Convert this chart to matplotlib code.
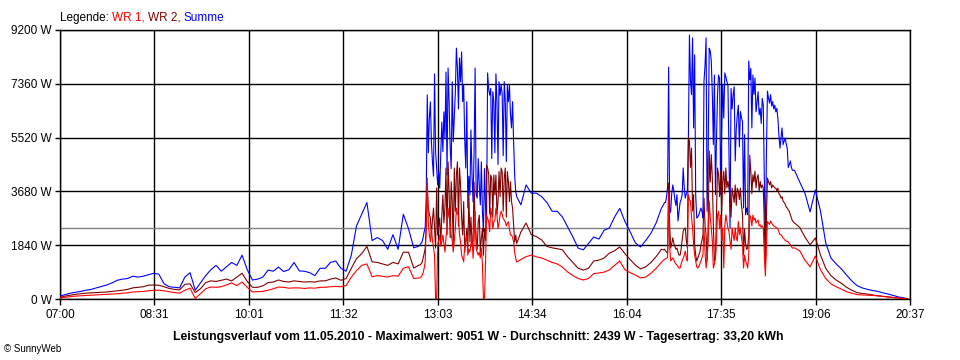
import matplotlib
matplotlib.use("Agg")
import matplotlib.pyplot as plt

plt.rcParams['font.family'] = ['Liberation Sans', 'DejaVu Sans']

# ---- data -------------------------------------------------------------
# sample times in minutes after 07:00 (one-minute samples where values fluctuate)
times = (list(range(0, 341, 5)) + list(range(345, 440)) + list(range(443, 579, 5))
         + list(range(580, 705)) + list(range(706, 812, 5)) + [815])

summe = [
    # 07:00 - 12:40
    100, 150, 200, 230, 260, 300, 330, 380, 430, 480,
    550, 640, 680, 700, 780, 750, 780, 830, 880, 850,
    520, 420, 400, 380, 750, 900, 300, 550, 800, 1000,
    1150, 950, 1100, 1250, 1150, 1500, 1000, 650, 680, 750,
    990, 950, 1090, 940, 1000, 1250, 960, 950, 900, 800,
    1050, 1050, 1250, 1300, 1050, 950, 1500, 2500, 2900, 3300,
    2000, 2100, 2000, 1700, 2200, 1700, 2900, 2400, 1750,
    # 12:45 - 14:19
    1810, 1850, 1900, 1950, 2100, 2300, 2430, 3500, 6980, 5000,
    6190, 6740, 5380, 4690, 4200, 7700, 5040, 4500, 3900, 4350,
    3790, 5000, 6050, 5040, 6400, 5500, 7760, 4240, 7900, 6750,
    5200, 4460, 7430, 5380, 6200, 7080, 8580, 7890, 6500, 8240,
    7430, 8450, 6750, 7320, 5500, 4480, 6750, 3110, 4200, 3560,
    5780, 4240, 3320, 5000, 7900, 3560, 3450, 4800, 3900, 3220,
    4690, 3000, 2290, 4460, 3200, 2640, 7730, 7200, 6970, 7200,
    4800, 7090, 6750, 5000, 7700, 6750, 4600, 7430, 6970, 7320,
    7000, 4900, 7430, 6750, 4700, 7320, 6750, 7320, 6300, 5850,
    6750, 5380, 4240, 3670, 3500,
    # 14:23 - 16:38
    3220, 3900, 3620, 3620, 3500, 3300, 3000, 3000, 2800, 2460,
    2120, 1740, 1680, 1900, 2120, 2050, 2350, 2430, 2800, 3100,
    2650, 2300, 1920, 1780, 2000, 2250, 2600, 3100,
    # 16:40 - 18:44
    3220, 3300, 3300, 3500, 3830, 7930, 2940, 3010, 3620, 3900,
    3700, 3400, 3200, 3570, 2670, 3000, 3300, 3400, 3570, 4480,
    3800, 3450, 3600, 3680, 5510, 9030, 7500, 6990, 8930, 5850,
    8350, 3570, 2770, 2800, 2880, 3000, 3110, 3000, 2770, 7460,
    8000, 8930, 3000, 5000, 8580, 8480, 8140, 7000, 5280, 7660,
    3570, 5500, 6990, 7660, 7540, 3570, 5800, 7320, 6190, 7730,
    7600, 7430, 7320, 5000, 2430, 7200, 6500, 6990, 7260, 4720,
    5800, 6300, 6630, 5200, 6410, 6200, 6070, 3110, 5620, 2880,
    3110, 2880, 8140, 7500, 7890, 5850, 7660, 7000, 7560, 6400,
    6750, 7090, 6300, 6520, 6000, 6860, 6630, 4000, 1740, 5000,
    7110, 6860, 6700, 6990, 6600, 6750, 6500, 6630, 6400, 6520,
    6190, 5600, 5160, 5500, 5850, 5280, 5400, 5510, 5300, 5160,
    4500, 4600, 4720, 4500, 4400,
    # 18:46 - 20:35
    4400, 4000, 3620, 2980, 3730, 3000, 1920, 1400, 1200, 1030,
    820, 620, 460, 380, 330, 290, 260, 210, 170, 120, 70, 40, 0,
]

wr2 = [
    60, 100, 130, 160, 180, 200, 210, 220, 230, 240,
    260, 280, 300, 330, 380, 400, 420, 470, 480, 470,
    420, 360, 330, 310, 500, 520, 220, 350, 560, 620,
    600, 640, 680, 620, 750, 880, 600, 400, 400, 450,
    560, 580, 650, 600, 580, 620, 600, 580, 590, 580,
    620, 620, 680, 720, 640, 700, 1050, 1380, 1550, 1800,
    1270, 1250, 1200, 1150, 1250, 1200, 1600, 1600, 1060,
    1160, 1160, 1200, 1250, 1400, 1550, 1740, 2500, 3800, 3110,
    2900, 2770, 2190, 2700, 3110, 2400, 1740, 3800, 2190, 2500,
    2770, 1900, 2870, 3560, 2600, 3110, 4480, 2200, 4690, 3670,
    2100, 4010, 3330, 1800, 4480, 3000, 4240, 4690, 2500, 4480,
    3900, 2800, 2190, 3330, 1600, 1960, 2410, 1700, 3560, 1960,
    2800, 1800, 2000, 4000, 2640, 2080, 1700, 2640, 2870, 1600,
    2080, 2410, 1500, 2410, 2000, 4580, 4480, 4300, 2900, 4240,
    4130, 2800, 4240, 3560, 4240, 2900, 3330, 4360, 3500, 4480,
    4360, 3000, 4130, 4480, 2800, 4360, 4010, 3330, 4010, 3330,
    3110, 2500, 1950, 2190, 1900,
    2290, 2600, 2200, 2130, 2020, 1800, 1750, 1720, 1680, 1440,
    1250, 1050, 990, 1050, 1300, 1330, 1400, 1570, 1650, 1780,
    1550, 1350, 1160, 1030, 1100, 1250, 1450, 1700,
    1680, 1700, 1650, 1600, 1570, 3970, 2500, 1740, 1900, 2090,
    1900, 1800, 1700, 1740, 1600, 1500, 1500, 1700, 2000, 2320,
    2400, 2430, 2000, 1740, 5510, 5400, 4500, 5160, 3010, 3570,
    1860, 1500, 1300, 1400, 1500, 1600, 1860, 2000, 2200, 3450,
    2500, 2200, 1300, 2500, 5060, 4000, 4940, 4140, 2500, 1300,
    1400, 3000, 4480, 4250, 3500, 4370, 3000, 4020, 4370, 3600,
    4480, 3800, 4020, 3790, 3560, 2800, 3790, 3560, 3300, 3900,
    3200, 3790, 3680, 3400, 3790, 3200, 2880, 1500, 2400, 1860,
    1700, 1740, 2200, 4920, 4370, 3600, 4250, 4000, 4370, 3800,
    4140, 4250, 3700, 4020, 3800, 3900, 3790, 2500, 1060, 2800,
    4140, 4020, 3900, 4020, 3800, 3900, 3850, 3800, 3790, 3700,
    3790, 3600, 3560, 3450, 3500, 3350, 3300, 3250, 3150, 3110,
    3050, 3000, 2880, 2780, 2670,
    2600, 2450, 2120, 1850, 2090, 1500, 1050, 800, 650, 540,
    400, 300, 220, 190, 170, 140, 110, 90, 70, 50, 30, 15, 0,
]

wr1 = [
    40, 60, 80, 100, 110, 120, 130, 140, 150, 160,
    170, 180, 200, 210, 240, 250, 260, 280, 300, 300,
    280, 250, 220, 200, 300, 370, 20, 180, 350, 410,
    400, 420, 480, 550, 460, 580, 400, 240, 250, 260,
    300, 350, 410, 400, 370, 380, 380, 360, 380, 370,
    400, 400, 420, 430, 420, 460, 750, 970, 1150, 1200,
    760, 800, 780, 750, 800, 780, 1050, 1100, 700,
    720, 730, 760, 800, 900, 1050, 1270, 2500, 4140, 2630,
    2200, 1960, 2410, 2000, 1740, 1500, 0, 0, 1840, 2000,
    2190, 1800, 1960, 2190, 1900, 1610, 2100, 2410, 3110, 2800,
    2640, 2190, 2000, 1610, 2000, 2410, 3110, 2900, 2870, 2200,
    1960, 1500, 1400, 1270, 1840, 2000, 2190, 1500, 1700, 1610,
    1900, 2190, 1390, 2000, 3000, 1740, 1600, 1500, 1600, 1400,
    1740, 1200, 0, 0, 1200, 2870, 2750, 2640, 2300, 3110,
    2870, 2400, 2640, 2700, 3110, 2870, 2410, 2600, 2870, 3000,
    2900, 2750, 2700, 2640, 2500, 2600, 2640, 2400, 2190, 2190,
    2100, 1960, 1600, 1390, 1270,
    1350, 1450, 1500, 1440, 1400, 1330, 1250, 1200, 1090, 920,
    800, 700, 650, 700, 870, 890, 920, 990, 1150, 1300,
    1000, 900, 820, 720, 750, 880, 1050, 1250,
    1330, 1350, 1380, 1400, 1420, 3600, 1800, 1300, 1350, 1400,
    1350, 1250, 1200, 1160, 1100, 1060, 1060, 1200, 1300, 1400,
    1500, 1640, 1400, 1300, 3560, 3400, 3350, 2800, 2430, 1860,
    1500, 1300, 1100, 1060, 1100, 1200, 1300, 1400, 1530, 2430,
    1600, 1060, 1400, 2000, 3350, 2800, 2430, 1980, 1060, 1200,
    1400, 2000, 2870, 3000, 2400, 2870, 2000, 2430, 1060, 2500,
    2880, 2650, 2430, 2300, 1980, 1700, 2430, 2200, 2000, 2430,
    2100, 1980, 2650, 2200, 2430, 2100, 1860, 1060, 1500, 1300,
    1200, 1060, 1500, 2870, 2800, 2500, 2870, 2700, 2770, 2600,
    2650, 2700, 2500, 2540, 2450, 2500, 2430, 1500, 790, 1800,
    2650, 2600, 2550, 2670, 2600, 2540, 2500, 2480, 2450, 2430,
    2400, 2300, 2200, 2200, 2150, 2090, 2050, 2000, 1980, 1980,
    1950, 1900, 1860, 1800, 1740,
    1750, 1650, 1330, 1100, 1470, 1000, 700, 520, 420, 340,
    250, 200, 150, 140, 130, 120, 110, 90, 70, 50, 30, 15, 0,
]

x_labels = ["07:00", "08:31", "10:01", "11:32", "13:03", "14:34", "16:04", "17:35", "19:06", "20:37"]
y_values = [0, 1840, 3680, 5520, 7360, 9200]
average = 2439
title = ("Leistungsverlauf vom 11.05.2010 - Maximalwert: 9051 W - "
         "Durchschnitt: 2439 W - Tagesertrag: 33,20 kWh")

# ---- figure -----------------------------------------------------------
total = 817  # minutes from 07:00 to 20:37
fig = plt.figure(figsize=(9.6, 3.6), dpi=100)
fig.patch.set_facecolor("white")
ax = fig.add_axes([60 / 960, 61 / 360, 850 / 960, 269 / 360])

ax.plot(times, summe, color="#0000FF", lw=0.8, zorder=3)
ax.plot(times, wr2, color="#800000", lw=0.8, zorder=4)
ax.plot(times, wr1, color="#FF0000", lw=0.8, zorder=5)
ax.axhline(average, color="#808080", lw=1.0, zorder=2)

ax.set_xlim(0, total)
ax.set_ylim(0, 9200)
xt = [i * total / 9 for i in range(10)]
ax.set_xticks(xt)
ax.set_xticklabels(x_labels)
ax.set_yticks(y_values)
ax.set_yticklabels([f"{v} W" for v in y_values])
ax.grid(True, color="black", lw=1.0, zorder=1)
ax.set_axisbelow(True)
for s in ax.spines.values():
    s.set_color("black")
    s.set_linewidth(1.0)
ax.tick_params(axis="x", direction="out", length=4.5, width=1, pad=2.5, labelsize=8.5, colors="black")
ax.tick_params(axis="y", direction="out", length=3.8, width=1, pad=2, labelsize=8.5, colors="black")

# legend line at the top
prev = fig.text(60 / 960, 1 - 21 / 360, "Legende: ", color="black", fontsize=8.5, va="baseline")
for txt, col in [("WR 1, ", "#FF0000"), ("WR 2, ", "#800000"), ("Summe", "#0000FF")]:
    prev = ax.annotate(txt, xy=(1, 0), xycoords=prev, color=col, fontsize=8.5,
                       va="bottom", ha="left", annotation_clip=False)

fig.text(478 / 960, 1 - 337 / 360, title, ha="center", va="center",
         fontsize=8.8, fontweight="bold", color="black")
fig.text(4 / 960, 1 - 349 / 360, "\u00a9 SunnyWeb", ha="left", va="center",
         fontsize=7, color="black")

fig.savefig("out.png", dpi=100, facecolor="white")
